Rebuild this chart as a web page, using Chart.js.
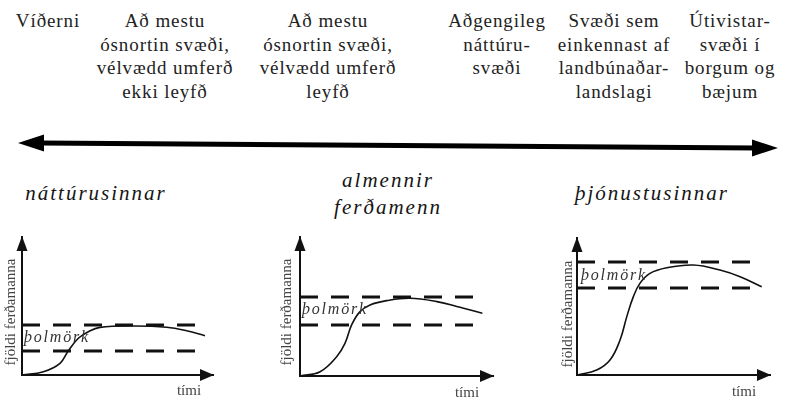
<!DOCTYPE html>
<html>
<head>
<meta charset="utf-8">
<script src="https://cdn.jsdelivr.net/npm/chart.js@4.4.0/dist/chart.umd.min.js"></script>
<style>
    html, body { margin: 0; padding: 0; background: #fff; }
    #stage {
        position: relative; width: 796px; height: 398px; overflow: hidden; color: #151515;
        font-family: "Liberation Serif", "Times New Roman", serif;
    }
    .zone {
        position: absolute; top: 9px; transform: translateX(-50%);
        text-align: center; font-size: 19px; line-height: 23.5px;
        letter-spacing: 0.9px; white-space: nowrap; color: #222;
    }
    .group {
        position: absolute; transform: translate(-50%, -50%);
        font-style: italic; font-size: 21px; letter-spacing: 2px; white-space: nowrap;
    }
    .ylab {
        position: absolute; transform: translate(-50%, -50%) rotate(-90deg);
        font-size: 15px; color: #444; white-space: nowrap;
    }
    .tlab {
        position: absolute; transform: translate(-50%, -50%);
        font-size: 15px; color: #444; white-space: nowrap;
    }
    .band {
        position: absolute; transform: translateY(-50%);
        font-style: italic; font-size: 16px; letter-spacing: 1.8px; color: #333; white-space: nowrap;
    }
    canvas { position: absolute; }
    svg { position: absolute; left: 0; top: 0; }
</style>
</head>
<body>
<div id="stage">
    <svg width="796" height="398">
        <line x1="40" y1="143" x2="756" y2="148" stroke="#000" stroke-width="5"/>
        <polygon points="18,143 44,134.5 44,151.5" fill="#000"/>
        <polygon points="778,148 752,139.5 752,156.5" fill="#000"/>
    </svg>
</div>
<script>
// texti
const zoneLabels = [
    ["Víðerni"],
    ["Að mestu", "ósnortin svæði,", "vélvædd umferð", "ekki leyfð"],
    ["Að mestu", "ósnortin svæði,", "vélvædd umferð", "leyfð"],
    ["Aðgengileg", "náttúru-", "svæði"],
    ["Svæði sem", "einkennast af", "landbúnaðar-", "landslagi"],
    ["Útivistar-", "svæði í", "borgum og", "bæjum"]
];
const groupNames = [["náttúrusinnar"], ["almennir", "ferðamenn"], ["þjónustusinnar"]];
const yAxisLabel = "fjöldi ferðamanna";
const xAxisLabel = "tími";
const bandLabel = "þolmörk";

// gögn (ás 0..100 á báðum ásum)
const natturuX = [0, 11.2, 19.9, 24.2, 29.5, 34.7, 40.8, 58.3, 75.7, 86.2, 95.8];
const natturuY = [0, 2.4, 8.5, 17.4, 26.6, 31.4, 34.5, 35.5, 34.6, 32.1, 28.5];
const almennirX = [0, 10.4, 19.0, 23.3, 26.8, 31.1, 36.3, 44.9, 57.0, 70.9, 82.9, 94.5];
const almennirY = [0, 3.1, 13.9, 23.5, 36.9, 46.3, 51.1, 54.2, 55.9, 53.5, 49.4, 45.1];
const thjonustaX = [0, 10.2, 17.1, 22.3, 25.8, 29.2, 32.6, 37.8, 46.5, 60.3, 74.1, 84.5, 95.7];
const thjonustaY = [0, 3.6, 10.9, 25.5, 42.6, 57.2, 66.9, 74.2, 78.3, 80.3, 76.6, 71.7, 64.4];
const lowerLimits = [17.4, 36.7, 63.5];
const upperLimits = [36.2, 56.8, 82.5];
const limitEnds = [97, 90.7, 95.9];

// staðsetning
const zoneCenters = [48, 165, 328, 497, 614, 730];
const groupPos = [[96, [193]], [388, [180, 207]], [652, [193]]];
const panelBoxes = [
    { ox: 22, oy: 375, tx: 213, ty: 237, ylab: [10, 312], tlab: [189, 390], band: [24, 337] },
    { ox: 300, oy: 376, tx: 493, ty: 237, ylab: [286, 312], tlab: [467, 392], band: [302, 309] },
    { ox: 577, oy: 375, tx: 770, ty: 238, ylab: [567, 314], tlab: [744, 391], band: [581, 275] }
];

const stage = document.getElementById('stage');

function addText(cls, text, x, y) {
    const el = document.createElement('div');
    el.className = cls;
    el.textContent = text;
    el.style.left = x + 'px';
    if (y !== undefined) el.style.top = y + 'px';
    stage.appendChild(el);
    return el;
}

zoneLabels.forEach((lines, i) => {
    const el = addText('zone', '', zoneCenters[i]);
    el.innerHTML = lines.join('<br>');
});

groupNames.forEach((lines, i) => {
    lines.forEach((line, j) => addText('group', line, groupPos[i][0], groupPos[i][1][j]));
});

// örvar á ásum
const axisArrows = {
    id: 'axisArrows',
    afterDraw(chart) {
        const { ctx, chartArea: a } = chart;
        ctx.save();
        ctx.fillStyle = '#111';
        ctx.beginPath();
        ctx.moveTo(a.right + 1, a.bottom);
        ctx.lineTo(a.right - 13, a.bottom - 6);
        ctx.lineTo(a.right - 13, a.bottom + 6);
        ctx.closePath();
        ctx.fill();
        ctx.beginPath();
        ctx.moveTo(a.left, a.top - 1);
        ctx.lineTo(a.left - 5.5, a.top + 14);
        ctx.lineTo(a.left + 5.5, a.top + 14);
        ctx.closePath();
        ctx.fill();
        ctx.restore();
    }
};

const curves = [[natturuX, natturuY], [almennirX, almennirY], [thjonustaX, thjonustaY]];

panelBoxes.forEach((p, i) => {
    const left = p.ox - 22, top = 225;
    const w = p.tx - left + 16, h = 398 - top;
    const canvas = document.createElement('canvas');
    canvas.width = w;
    canvas.height = h;
    canvas.style.left = left + 'px';
    canvas.style.top = top + 'px';
    stage.appendChild(canvas);

    const [cx, cy] = curves[i];
    const dashed = y => ({
        data: [{ x: 0, y: y }, { x: limitEnds[i], y: y }],
        borderColor: '#111', borderWidth: 3, borderDash: [18, 13],
        pointRadius: 0
    });
    const axis = {
        type: 'linear', min: 0, max: 100,
        grid: { display: false, drawTicks: false },
        ticks: { display: false },
        border: { display: true, color: '#111', width: 2 }
    };

    new Chart(canvas.getContext('2d'), {
        type: 'line',
        data: {
            datasets: [
                {
                    data: cx.map((x, k) => ({ x: x, y: cy[k] })),
                    borderColor: '#111', borderWidth: 1.6,
                    pointRadius: 0, tension: 0.4
                },
                dashed(upperLimits[i]),
                dashed(lowerLimits[i])
            ]
        },
        options: {
            responsive: false,
            animation: false,
            layout: {
                autoPadding: false,
                padding: { left: p.ox - left, top: p.ty - top, right: w - (p.tx - left), bottom: h - (p.oy - top) }
            },
            plugins: { legend: { display: false }, tooltip: { enabled: false } },
            scales: { x: axis, y: axis }
        },
        plugins: [axisArrows]
    });

    addText('ylab', yAxisLabel, p.ylab[0], p.ylab[1]);
    addText('tlab', xAxisLabel, p.tlab[0], p.tlab[1]);
    addText('band', bandLabel, p.band[0], p.band[1]);
});
</script>
</body>
</html>
